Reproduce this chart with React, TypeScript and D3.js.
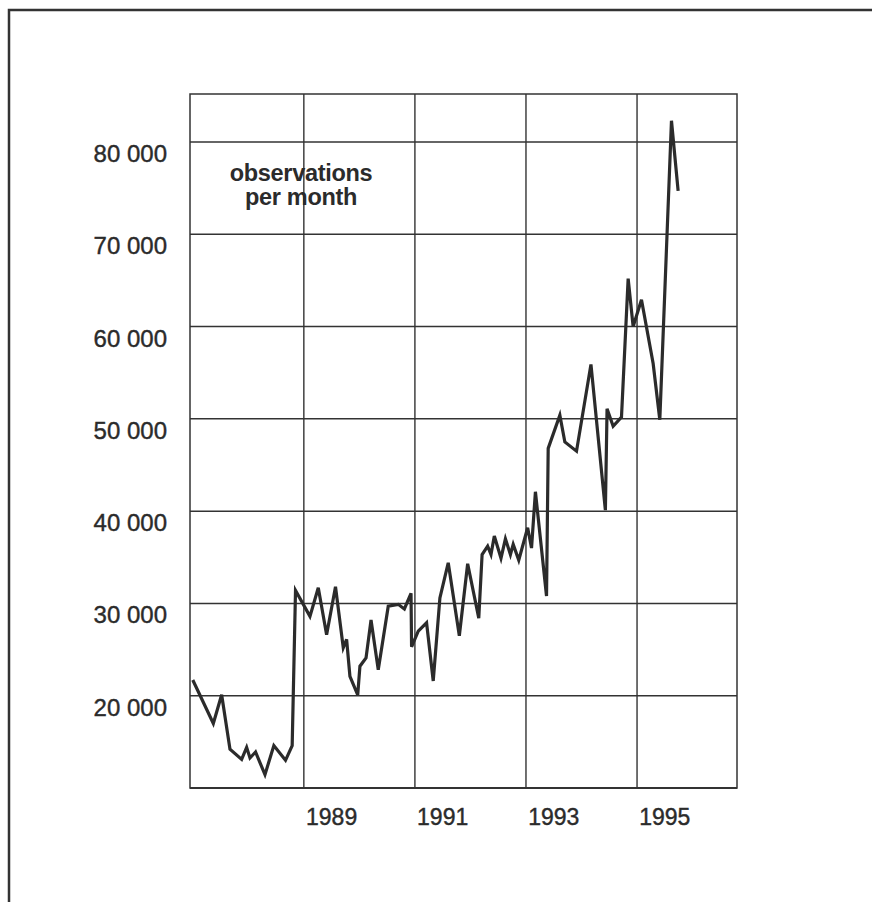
import * as d3 from 'd3';

// observations per month (decimal years)
const dates = [
  1987.0, 1987.37, 1987.52, 1987.67, 1987.88, 1987.97, 1988.03, 1988.13, 1988.3, 1988.46,
  1988.67, 1988.79, 1988.85, 1989.11, 1989.26, 1989.41, 1989.57, 1989.71, 1989.77, 1989.83,
  1989.97, 1990.01, 1990.12, 1990.21, 1990.34, 1990.52, 1990.7, 1990.81, 1990.93, 1990.94,
  1991.06, 1991.21, 1991.33, 1991.45, 1991.6, 1991.8, 1991.95, 1992.15, 1992.21, 1992.31,
  1992.37, 1992.43, 1992.55, 1992.63, 1992.72, 1992.77, 1992.87, 1993.03, 1993.1, 1993.17,
  1993.37, 1993.4, 1993.61, 1993.7, 1993.91, 1994.17, 1994.43, 1994.46, 1994.57, 1994.72,
  1994.84, 1994.93, 1995.08, 1995.29, 1995.41, 1995.62, 1995.74,
];
const observations = [
  21700, 17000, 20100, 14200, 13100, 14400, 13250, 13900, 11450, 14600,
  13000, 14600, 31400, 28600, 31700, 26600, 31800, 25200, 26100, 22100,
  20100, 23200, 24100, 28200, 22800, 29700, 29900, 29400, 31100, 25300,
  27000, 27900, 21600, 30600, 34400, 26500, 34300, 28400, 35300, 36200,
  35300, 37300, 34900, 37000, 35300, 36400, 34700, 38200, 36000, 42100,
  30800, 46800, 50400, 47500, 46500, 55900, 40100, 51100, 49200, 50200,
  65200, 60000, 62900, 56000, 49900, 82300, 74700,
];
const yTicks = [20000, 30000, 40000, 50000, 60000, 70000, 80000];
const yearTicks = [1989, 1991, 1993, 1995];
const noteLines = ['observations', 'per month'];

const W = 872, H = 902;
const plot = { left: 190, right: 737, top: 94, bottom: 788 };
const ink = '#2b2b2b';

export default function App() {
  const x = d3.scaleLinear().domain([1986.95, 1996.8]).range([plot.left, plot.right]);
  const y = d3.scaleLinear().domain([10000, 85200]).range([plot.bottom, plot.top]);
  const fmt = (v: number) => d3.format(',')(v).replace(/,/g, ' ');
  const line = d3.line<number>()
    .x((_, i) => x(dates[i]))
    .y(d => y(d));

  return (
    <div style={{ position: 'absolute', left: 0, top: 0 }}>
      <svg width={W} height={H} style={{ display: 'block', background: '#fff' }}
        fontFamily="'Liberation Sans', Arial, sans-serif">
        {/* outer frame, runs off the right and bottom of the scan */}
        <rect x={9} y={10} width={W + 20} height={H + 20} fill="none" stroke="#333" strokeWidth={2.5} />

        {yTicks.map(t => (
          <line key={'h' + t} x1={plot.left} x2={plot.right} y1={y(t)} y2={y(t)} stroke="#333" strokeWidth={1.5} />
        ))}
        {yearTicks.map(t => (
          <line key={'v' + t} x1={x(t)} x2={x(t)} y1={plot.top} y2={plot.bottom} stroke="#333" strokeWidth={1.4} />
        ))}
        <rect x={plot.left} y={plot.top} width={plot.right - plot.left} height={plot.bottom - plot.top}
          fill="none" stroke="#333" strokeWidth={1.5} />
        <line x1={plot.left} x2={plot.right} y1={plot.bottom} y2={plot.bottom} stroke="#333" strokeWidth={2.2} />

        {yTicks.map(t => (
          <text key={'yl' + t} x={167} y={y(t) + 20} textAnchor="end" fontSize={24} fill={ink}
            stroke={ink} strokeWidth={0.4}>{fmt(t)}</text>
        ))}
        {yearTicks.map(t => (
          <text key={'xl' + t} x={x(t + 0.5)} y={825} textAnchor="middle" fontSize={23} fill={ink}
            stroke={ink} strokeWidth={0.4}>{t}</text>
        ))}

        {noteLines.map((s, i) => (
          <text key={s} x={301} y={181 + i * 24} textAnchor="middle" fontSize={23.5} fontWeight="bold" fill={ink}
            letterSpacing={-0.3}>{s}</text>
        ))}

        <path d={line(observations) ?? ''} fill="none" stroke={ink} strokeWidth={3.2} strokeLinejoin="miter" />
      </svg>
    </div>
  );
}
